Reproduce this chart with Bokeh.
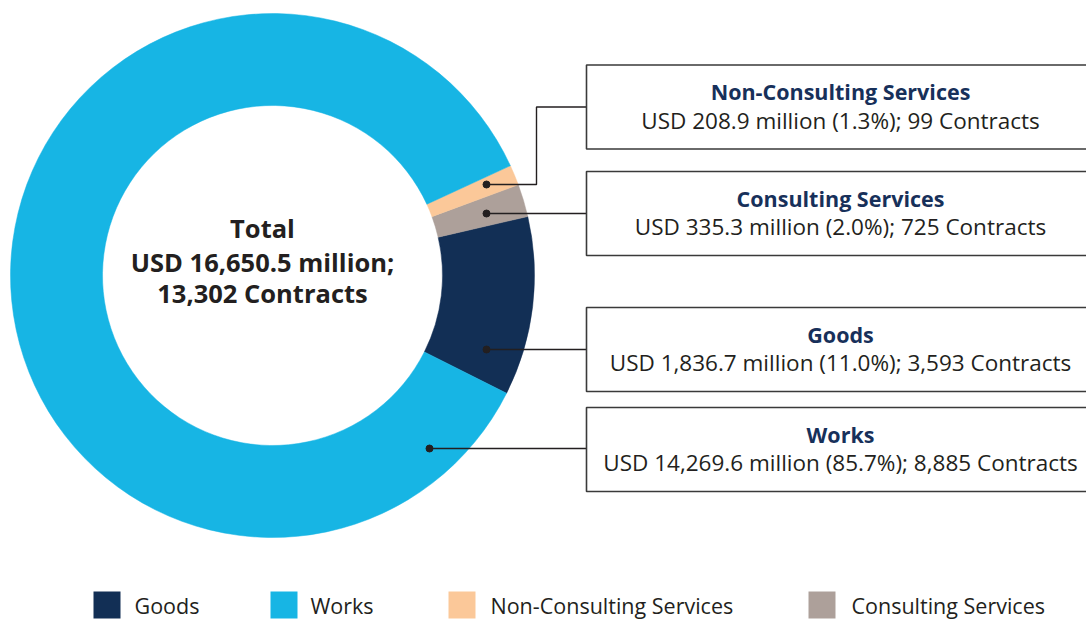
import math
from bokeh.plotting import figure
from bokeh.models import ColumnDataSource, Range1d
from bokeh.core.properties import value
from bokeh.embed import file_html
from bokeh.resources import INLINE

# ---------------- data ----------------
categories = ["Goods", "Consulting Services", "Non-Consulting Services", "Works"]
amounts_musd = [1836.7, 335.3, 208.9, 14269.6]
contracts = [3593, 725, 99, 8885]
colors = ["#122f55", "#ada09a", "#fbc899", "#17b5e4"]
legend_order = ["Goods", "Works", "Non-Consulting Services", "Consulting Services"]

# ---------------- layout (reference pixel space) ----------------
W, H = 1086, 619
FONT = "Open Sans"
TXT_SHIFT = 9  # baseline correction for text rendering


def X(rx):
    return rx


def Y(ry):
    return H - ry


def YT(ry):
    return H - (ry - TXT_SHIFT)


CENTER = (272, 275)
R_OUT, R_IN = 262, 170
START_DEG = -26.7

dot_pos = {"Goods": (486, 349), "Consulting Services": (486, 213),
           "Non-Consulting Services": (486, 184), "Works": (429, 448)}
box_top = {"Goods": 307, "Consulting Services": 171,
           "Non-Consulting Services": 64.5, "Works": 407}
BOX_H = 84
BOX_L, BOX_R = 586, 1094
ELBOW_X = 536

legend_sq_x = [93, 270, 448, 808]
legend_tx_x = [134, 310, 490, 851]

TEXT_DARK = "#231f20"
TITLE_NAVY = "#17305a"

p = figure(width=W, height=H, x_range=Range1d(0, W), y_range=Range1d(0, H),
           output_backend="svg", toolbar_location=None, min_border=0,
           x_axis_location=None, y_axis_location=None)
p.grid.visible = False
p.outline_line_color = None
p.background_fill_color = "white"
p.border_fill_color = "white"

# ---------------- donut ----------------
total = sum(amounts_musd)
starts, ends = [], []
a = math.radians(START_DEG)
for v in amounts_musd:
    starts.append(a)
    a += v / total * 2 * math.pi
    ends.append(a)

src = ColumnDataSource(dict(cat=categories, start=starts, end=ends, color=colors))
p.annular_wedge(x=X(CENTER[0]), y=Y(CENTER[1]), inner_radius=R_IN, outer_radius=R_OUT,
                start_angle="start", end_angle="end", fill_color="color",
                line_color="color", line_width=0.5, source=src)

# ---------------- callouts ----------------
xs, ys = [], []
for c in categories:
    dx, dy = dot_pos[c]
    mid = box_top[c] + BOX_H / 2
    if abs(dy - mid) < 2:
        xs.append([X(dx), X(BOX_L)])
        ys.append([Y(dy), Y(dy)])
    else:
        xs.append([X(dx), X(ELBOW_X), X(ELBOW_X), X(BOX_L)])
        ys.append([Y(dy), Y(dy), Y(mid), Y(mid)])
p.multi_line(xs=xs, ys=ys, line_color=TEXT_DARK, line_width=1.4)
p.scatter(x=[X(dot_pos[c][0]) for c in categories], y=[Y(dot_pos[c][1]) for c in categories],
          size=7, fill_color=TEXT_DARK, line_color=TEXT_DARK)

p.quad(left=[X(BOX_L)] * 4, right=[X(BOX_R)] * 4,
       top=[Y(box_top[c]) for c in categories],
       bottom=[Y(box_top[c] + BOX_H) for c in categories],
       fill_color="white", line_color="#3a3a3a", line_width=1.6)

box_cx = (BOX_L + BOX_R) / 2
titles, bodies = [], []
for c, v, n in zip(categories, amounts_musd, contracts):
    titles.append(c)
    bodies.append(f"USD {v:,.1f} million ({v / total * 100:.1f}%); {n:,} Contracts")

p.text(x=[X(box_cx)] * 4, y=[YT(box_top[c] + 35.5) for c in categories], text=titles,
       text_font=value(FONT), text_font_style="bold", text_font_size="21.5px",
       text_color=TITLE_NAVY, text_align="center", text_baseline="alphabetic")
p.text(x=[X(box_cx)] * 4, y=[YT(box_top[c] + 64) for c in categories], text=bodies,
       text_font=value(FONT), text_font_size="22.5px",
       text_color=TEXT_DARK, text_align="center", text_baseline="alphabetic")

# ---------------- center text ----------------
center_lines = ["Total", f"USD {total:,.1f} million;", f"{sum(contracts):,} Contracts"]
p.text(x=[X(262)] * 3, y=[YT(236.5), YT(270), YT(301.5)], text=center_lines,
       text_font=value(FONT), text_font_style="bold", text_font_size="25.5px",
       text_color=TEXT_DARK, text_align="center", text_baseline="alphabetic")

# ---------------- legend ----------------
col_of = dict(zip(categories, colors))
SQ = 27
p.quad(left=[X(x) for x in legend_sq_x], right=[X(x + SQ) for x in legend_sq_x],
       top=[Y(591)] * 4, bottom=[Y(591 + SQ)] * 4,
       fill_color=[col_of[c] for c in legend_order], line_color=None)
p.text(x=[X(x) for x in legend_tx_x], y=[YT(614)] * 4, text=legend_order,
       text_font=value(FONT), text_font_size="21.5px", text_color=TEXT_DARK,
       text_align="left", text_baseline="alphabetic")

open("out.html", "w").write(file_html(p, INLINE))
